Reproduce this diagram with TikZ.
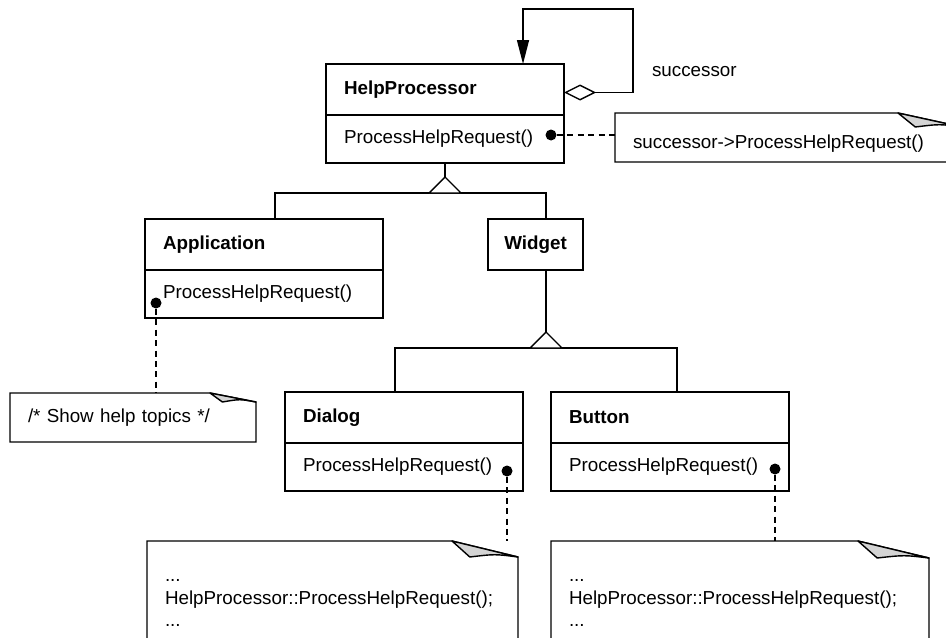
\documentclass[tikz,border=0pt]{standalone}
\usepackage{fontspec}
\setmainfont{Liberation Sans}
\usetikzlibrary{arrows.meta,positioning}
\definecolor{flapgray}{HTML}{D4D4D4}
\newcommand{\umlfont}{\fontsize{9.4}{11.25}\selectfont}
% open triangle of a generalization, apex at #1
\newcommand{\gentri}[1]{\draw[link, fill=white] (#1) -- ++(-16,16) -- ++(32,0) -- cycle;}
% note outline with a dog-eared corner
\newcommand{\noteframe}[3]{%
  \draw[link] (#1.south west) -- (#1.north west) -- ([xshift=-#2]#1.north east) -- ([yshift=-#3]#1.north east) -- (#1.south east) -- cycle;
  \draw[link, fill=flapgray, line join=round] ([xshift=-#2]#1.north east) -- ([xshift=-0.73*#2, yshift=-#3]#1.north east) .. controls ([xshift=-0.35*#2, yshift=-#3+1.5pt]#1.north east) .. ([yshift=-#3]#1.north east) -- cycle;}

\begin{document}
\begin{tikzpicture}[x=0.5pt, y=-0.5pt,
  link/.style={line width=0.7pt},
  dashlink/.style={line width=0.7pt, dash pattern=on 3pt off 2.2pt},
  clshead/.style={draw, line width=0.7pt, outer sep=0pt, minimum width=119pt, minimum height=25.5pt, text width=101pt, inner xsep=9pt, align=left, font=\umlfont\bfseries},
  clsbody/.style={clshead, minimum height=24pt, font=\umlfont},
  note/.style={outer sep=0pt, inner xsep=9pt, align=left, font=\umlfont, anchor=north west},
  dot/.style={circle, fill, inner sep=0pt, minimum size=5.5pt}
]
  \useasboundingbox (0,0) rectangle (946,637);
  \clip (0,0) rectangle (946,637);

  % classes
  \node[clshead, anchor=north west] (hp) at (326,64) {HelpProcessor};
  \node[clsbody, below=0pt of hp] (hpm) {ProcessHelpRequest()};
  \node[clshead, anchor=north west] (app) at (145,219) {Application};
  \node[clsbody, below=0pt of app] (appm) {ProcessHelpRequest()};
  \node[clshead, anchor=north west, text width=, minimum width=47.5pt, inner xsep=6pt, align=center] (widget) at (488,219) {Widget};
  \node[clshead, anchor=north west] (dlg) at (285,392) {Dialog};
  \node[clsbody, below=0pt of dlg] (dlgm) {ProcessHelpRequest()};
  \node[clshead, anchor=north west] (btn) at (551,392) {Button};
  \node[clsbody, below=0pt of btn] (btnm) {ProcessHelpRequest()};

  \node[anchor=west, font=\umlfont] (succ) at (645,72) {successor};

  % notes
  \node[note, minimum width=173.5pt, minimum height=24.5pt, text width=155.5pt, text height=10.5pt, text depth=0pt] (hpnote) at (615,113) {successor->ProcessHelpRequest()};
  \node[note, minimum width=123pt, minimum height=24.5pt, text width=105pt] (shownote) at (10,393) {/* Show help topics */};
  \node[note, minimum width=185.5pt, minimum height=62pt, text width=167.5pt] (dlgnote) at (147,541) {...\\HelpProcessor::ProcessHelpRequest();\\...};
  \node[note, minimum width=189pt, minimum height=62pt, text width=171pt] (btnnote) at (551,541) {...\\HelpProcessor::ProcessHelpRequest();\\...};
  \noteframe{hpnote}{32pt}{7pt}
  \noteframe{shownote}{23pt}{4.5pt}
  \noteframe{dlgnote}{33pt}{8pt}
  \noteframe{btnnote}{35.5pt}{8.5pt}

  \node[dot] (hpdot) at (551,135) {};
  \node[dot] (appdot) at (156,303) {};
  \node[dot] (dlgdot) at (507,471) {};
  \node[dot] (btndot) at (775,469) {};

  \draw[dashlink] (hpdot) -- (hpdot -| hpnote.west);
  \draw[dashlink] (appdot) -- (appdot |- shownote.north);
  \draw[dashlink] (dlgdot) -- (dlgdot |- dlgnote.north);
  \draw[dashlink] (btndot) -- (btndot |- btnnote.north);

  % successor link
  \draw[link, {Diamond[open, length=16pt, width=8pt]}-{Triangle[length=12pt, width=6pt]}] ([yshift=-1.5pt]hp.east) -| (633,9) -| (hp.north -| 523,0);

  % generalizations
  \coordinate (bar1) at (445,193);
  \coordinate (bar2) at (546,348);
  \draw[link] (app.north -| 275,0) |- (bar1) -| (widget.north -| 546,0);
  \draw[link] (hpm.south) -- ++(0,14) coordinate (tri1);
  \gentri{tri1}
  \draw[link] (dlg.north -| 395,0) |- (bar2) -| (btn.north -| 677,0);
  \draw[link] (widget.south -| 546,0) -- (546,332) coordinate (tri2);
  \gentri{tri2}
\end{tikzpicture}
\end{document}
